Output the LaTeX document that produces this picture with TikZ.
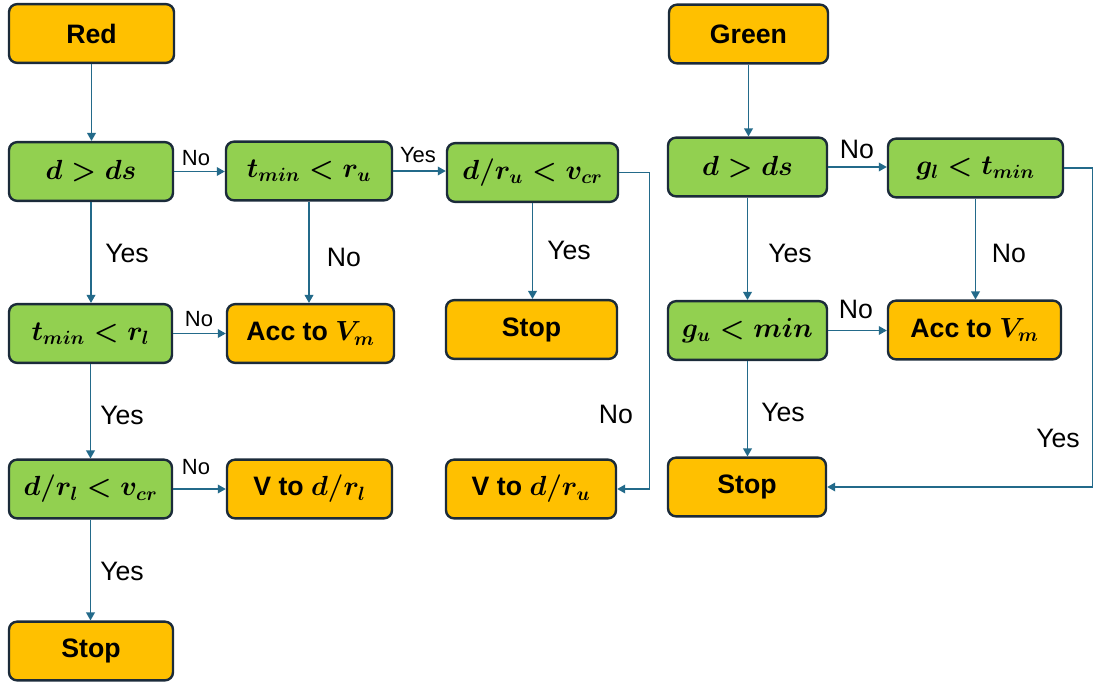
\documentclass[tikz,border=0pt]{standalone}
\usepackage{fontspec}
\setmainfont{Liberation Sans}
\usepackage{bm}
\usetikzlibrary{arrows.meta}
\definecolor{gfill}{HTML}{92D050}
\definecolor{ofill}{HTML}{FFC000}
\definecolor{bord}{HTML}{1B2B3A}
\definecolor{arr}{HTML}{236A8A}
\begin{document}
\begin{tikzpicture}[x=0.75pt,y=-0.75pt,
  box/.style={draw=bord, line width=1.8pt, rounded corners=6pt, minimum height=44pt,
    inner sep=0pt, align=center, font=\fontsize{20}{24}\selectfont\bfseries\boldmath},
  gbox/.style={box, fill=gfill},
  obox/.style={box, fill=ofill},
  conn/.style={draw=arr, line width=1pt, -{Triangle[length=6pt,width=6.5pt]}},
  lab/.style={font=\fontsize{20}{24}\selectfont, inner sep=0pt},
  slab/.style={font=\fontsize{16.5}{20}\selectfont, inner sep=0pt}]
\useasboundingbox (0,0) rectangle (1097,682);

% left flow
\node[obox, minimum width=123.75pt] (red) at (91.5,33.5) {Red};
\node[gbox, minimum width=123pt] (dds1) at (91,171.5) {$d>ds$};
\node[gbox, minimum width=124.5pt] (tru) at (309,171) {$t_{min}<r_u$};
\node[gbox, minimum width=128.25pt] (dru) at (532.5,172.5) {$d/r_u<v_{cr}$};
\node[obox, minimum width=128.25pt] (stopM) at (531.5,329.5) {Stop};
\node[gbox, minimum width=122.25pt] (trl) at (90.5,333.5) {$t_{min}<r_l$};
\node[obox, minimum width=125.25pt] (acc1) at (310.5,333.5) {Acc to $V_m$};
\node[gbox, minimum width=122.25pt] (drl) at (90.5,489) {$d/r_l<v_{cr}$};
\node[obox, minimum width=123.75pt] (vrl) at (309.5,489) {V to $d/r_l$};
\node[obox, minimum width=127.5pt] (vru) at (531,489) {V to $d/r_u$};
\node[obox, minimum width=123pt] (stopB) at (91,651) {Stop};

% right flow
\node[obox, minimum width=119.25pt] (green) at (748.5,34) {Green};
\node[gbox, minimum width=119.25pt] (dds2) at (747.5,167) {$d>ds$};
\node[gbox, minimum width=131.25pt] (gl) at (975.5,168) {$g_l<t_{min}$};
\node[gbox, minimum width=119.25pt] (gu) at (747.5,330.5) {$g_u<min$};
\node[obox, minimum width=129.75pt] (acc2) at (974.5,330) {Acc to $V_m$};
\node[obox, minimum width=118.5pt] (stopR) at (747,487) {Stop};

% connectors left
\draw[conn] (red.south) -- (red.south |- dds1.north);
\draw[conn] (dds1.east) -- (dds1.east -| tru.west);
\draw[conn] (tru.east) -- (tru.east -| dru.west);
\draw[conn] (dru.east) -- ++(30,0) coordinate (druc) |- (vru.east);
\draw[conn] (dru.south) -- (dru.south |- stopM.north);
\draw[conn] (tru.south) -- (tru.south |- acc1.north);
\draw[conn] (dds1.south) -- (dds1.south |- trl.north);
\draw[conn] (trl.east) -- (trl.east -| acc1.west);
\draw[conn] (trl.south) -- (trl.south |- drl.north);
\draw[conn] (drl.east) -- (drl.east -| vrl.west);
\draw[conn] (drl.south) -- (drl.south |- stopB.north);

% connectors right
\draw[conn] (green.south) -- (green.south |- dds2.north);
\draw[conn] (dds2.east) -- (dds2.east -| gl.west);
\draw[conn] (dds2.south) -- (dds2.south |- gu.north);
\draw[conn] (gl.south) -- (gl.south |- acc2.north);
\draw[conn] (gu.east) -- (gu.east -| acc2.west);
\draw[conn] (gu.south) -- (gu.south |- stopR.north);
\draw[conn] (gl.east) -- ++(28,0) coordinate (glc) |- (stopR.east);

% labels
\node[slab] (l1) at (196,158) {No};
\node[slab] (l2) at (418,155) {Yes};
\node[lab] (l3) at (616,414) {No};
\node[lab] (l4) at (569,250) {Yes};
\node[lab] (l5) at (344,257) {No};
\node[lab] (l6) at (127,253) {Yes};
\node[slab] (l7) at (199,319) {No};
\node[lab] (l8) at (122,415) {Yes};
\node[slab] (l9) at (196,467) {No};
\node[lab] (l10) at (122,571) {Yes};
\node[lab] (l11) at (857,149) {No};
\node[lab] (l12) at (790,253) {Yes};
\node[lab] (l13) at (1009,253) {No};
\node[lab] (l14) at (856,309) {No};
\node[lab] (l15) at (783,412) {Yes};
\node[lab] (l16) at (1058,438) {Yes};
\end{tikzpicture}
\end{document}
